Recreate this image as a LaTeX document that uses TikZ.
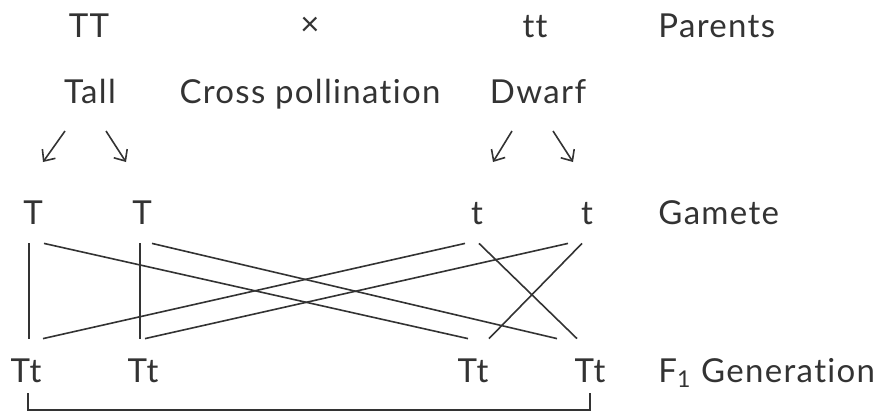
\documentclass[tikz,border=0pt]{standalone}
\usepackage{fontspec}
\setmainfont{Lato}[Ligatures=NoCommon,LetterSpace=4]
\usetikzlibrary{arrows.meta}
\definecolor{ink}{HTML}{333333}

\begin{document}
\begin{tikzpicture}[x=0.5pt,y=-0.5pt,
  every node/.style={font=\fontsize{16.5}{20}\selectfont,text=ink,anchor=base},
  gene/.style={text height=12pt,text depth=0pt,inner xsep=0pt,inner ysep=9.5pt},
  label/.style={anchor=base west,inner xsep=0pt},
  link/.style={draw=ink,line width=0.8pt},
  arr/.style={link,-{Straight Barb[length=4.5pt,width=8pt]}}]
\useasboundingbox (0,0) rectangle (881,414);
\node (pTT) at (89,37) {TT};
\node (cross) at (310,35) {×};
\node (ptt) at (535,37) {tt};
\node[label] (lpar) at (658,37) {Parents};
\node (tall) at (90,103) {Tall};
\node (poll) at (310,103) {Cross pollination};
\node (dwarf) at (538,103) {Dwarf};
\node[gene] (g1) at (33,224) {T};
\node[gene] (g2) at (142,224) {T};
\node[gene] (g3) at (477,224) {t};
\node[gene] (g4) at (587,224) {t};
\node[label] (lgam) at (658,224) {Gamete};
\node[gene] (f1) at (26,382) {Tt};
\node[gene] (f2) at (143,382) {Tt};
\node[gene] (f3) at (473,382) {Tt};
\node[gene] (f4) at (590,382) {Tt};
\node[label] (lgen) at (658,382) {F\textsubscript{1} Generation};
\draw[arr] ([xshift=-12.5pt,yshift=-14pt]tall.base) -- ([xshift=5pt,yshift=31pt]g1.base);
\draw[arr] ([xshift=8pt,yshift=-14pt]tall.base) -- ([xshift=-8pt,yshift=31pt]g2.base);
\draw[arr] ([xshift=-13pt,yshift=-14pt]dwarf.base) -- ([xshift=8pt,yshift=31pt]g3.base);
\draw[arr] ([xshift=7.5pt,yshift=-14pt]dwarf.base) -- ([xshift=-7pt,yshift=31pt]g4.base);
\draw[link] ([xshift=-2pt]g1.south) -- ([xshift=1.5pt]f1.north);
\draw[link] ([xshift=5.5pt]g1.south) -- ([xshift=-2.5pt]f3.north);
\draw[link] ([xshift=-1pt]g2.south) -- ([xshift=-1.5pt]f2.north);
\draw[link] ([xshift=5pt]g2.south) -- ([xshift=-16.5pt]f4.north);
\draw[link] ([xshift=-6pt]g3.south) -- ([xshift=8.5pt]f1.north);
\draw[link] ([xshift=1pt]g3.south) -- ([xshift=-6.5pt]f4.north);
\draw[link] ([xshift=-9.5pt]g4.south) -- ([xshift=1pt]f2.north);
\draw[link] ([xshift=-2.5pt]g4.south) -- ([xshift=8pt]f3.north);
\draw[link] ([xshift=1pt,yshift=-5.5pt]f1.base) -- ([xshift=1pt,yshift=-14pt]f1.base) -| ([yshift=-5.5pt]f4.base);
\end{tikzpicture}
\end{document}
